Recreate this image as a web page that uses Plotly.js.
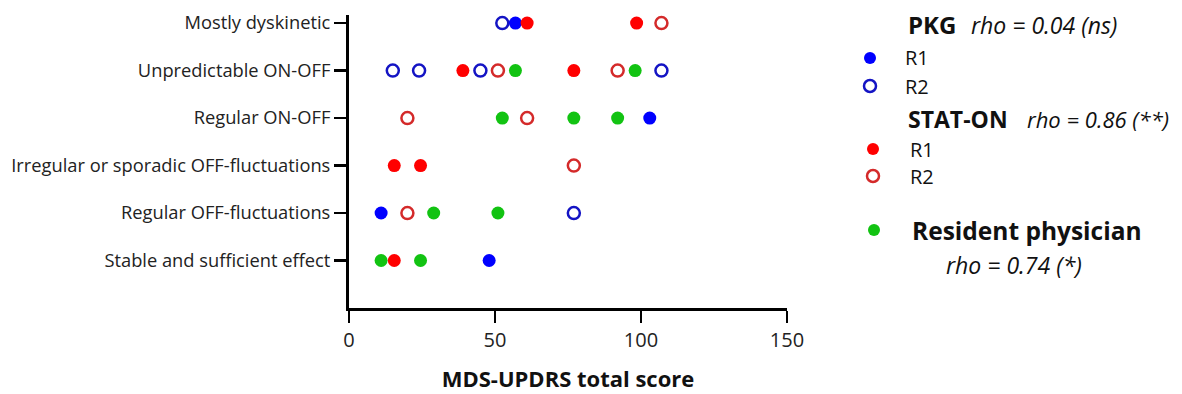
<!DOCTYPE html>
<html>
<head>
<meta charset="utf-8">
<script src="https://cdn.plot.ly/plotly-3.0.1.min.js"></script>
<style>html,body{margin:0;padding:0;background:#fff;}#chart{width:1182px;height:394px;}</style>
</head>
<body>
<div id="chart"></div>
<script>
// Categories (bottom to top)
const categories = [
  "Stable and sufficient effect",
  "Regular OFF-fluctuations",
  "Irregular or sporadic OFF-fluctuations",
  "Regular ON-OFF",
  "Unpredictable ON-OFF",
  "Mostly dyskinetic"
];
const xTickVals = [0, 50, 100, 150];

// PKG R1 (filled blue)
const pkgR1X = [57, 103, 11, 48];
const pkgR1Y = ["Mostly dyskinetic", "Regular ON-OFF", "Regular OFF-fluctuations", "Stable and sufficient effect"];
// PKG R2 (open blue)
const pkgR2X = [52.5, 15, 24, 45, 107, 77];
const pkgR2Y = ["Mostly dyskinetic", "Unpredictable ON-OFF", "Unpredictable ON-OFF", "Unpredictable ON-OFF", "Unpredictable ON-OFF", "Regular OFF-fluctuations"];
// STAT-ON R1 (filled red)
const statR1X = [61, 98.5, 39, 77, 15.5, 24.5, 15.5];
const statR1Y = ["Mostly dyskinetic", "Mostly dyskinetic", "Unpredictable ON-OFF", "Unpredictable ON-OFF", "Irregular or sporadic OFF-fluctuations", "Irregular or sporadic OFF-fluctuations", "Stable and sufficient effect"];
// STAT-ON R2 (open red)
const statR2X = [107, 51, 92, 20, 61, 77, 20];
const statR2Y = ["Mostly dyskinetic", "Unpredictable ON-OFF", "Unpredictable ON-OFF", "Regular ON-OFF", "Regular ON-OFF", "Irregular or sporadic OFF-fluctuations", "Regular OFF-fluctuations"];
// Resident physician (filled green)
const resX = [57, 98, 52.5, 77, 92, 29, 51, 11, 24.5];
const resY = ["Unpredictable ON-OFF", "Unpredictable ON-OFF", "Regular ON-OFF", "Regular ON-OFF", "Regular ON-OFF", "Regular OFF-fluctuations", "Regular OFF-fluctuations", "Stable and sufficient effect", "Stable and sufficient effect"];

const BLUE = "#0000ff", BLUE_O = "#1414c4", RED = "#ff0000", RED_O = "#d42a2a", GREEN = "#12c312";
const MS = 13;

function filled(x, y, c) {
  return {x, y, type: "scatter", mode: "markers", showlegend: false, hoverinfo: "x+y",
    marker: {size: MS, color: c, line: {width: 0}}};
}
function open(x, y, c) {
  return {x, y, type: "scatter", mode: "markers", showlegend: false, hoverinfo: "x+y",
    marker: {size: MS - 1, color: c, symbol: "circle-open", line: {width: 2.5, color: c}}};
}

const traces = [
  filled(resX, resY, GREEN),
  open(pkgR2X, pkgR2Y, BLUE_O),
  filled(pkgR1X, pkgR1Y, BLUE),
  open(statR2X, statR2Y, RED_O),
  filled(statR1X, statR1Y, RED)
];

const FONT = "Open Sans, Noto Sans, sans-serif";
const L = 349, R = 395, T = 15, B = 86, W = 1182, H = 394;
const pw = W - L - R, ph = H - T - B;
const px = v => (v - L) / pw;
const py = v => (H - B - v) / ph;

function legendDot(xp, yp, c, isOpen) {
  const r = 6;
  return {type: "circle", xref: "paper", yref: "paper", xsizemode: "pixel", ysizemode: "pixel",
    xanchor: px(xp), yanchor: py(yp), x0: -r, x1: r, y0: -r, y1: r,
    fillcolor: isOpen ? "rgba(0,0,0,0)" : c, line: {width: isOpen ? 2.5 : 0, color: c}};
}
function txt(xp, yp, text, size, anchor) {
  return {xref: "paper", yref: "paper", x: px(xp), y: py(yp), xanchor: anchor || "left", yanchor: "middle",
    text, showarrow: false, font: {family: FONT, size: size, color: "#111"}};
}

const layout = {
  width: W, height: H,
  margin: {l: L, r: R, t: T, b: B, pad: 0},
  paper_bgcolor: "#fff", plot_bgcolor: "#fff",
  font: {family: FONT, color: "#111"},
  xaxis: {
    range: [0, 150], tickvals: xTickVals, ticktext: xTickVals.map(String),
    showgrid: false, zeroline: false, showline: true, linecolor: "#000", linewidth: 3,
    ticks: "outside", ticklen: 12, tickwidth: 2.5, tickcolor: "#000",
    tickfont: {family: FONT, size: 20, color: "#222"},
    title: {text: "<b>MDS-UPDRS total score</b>", font: {family: FONT, size: 22, color: "#111"}, standoff: 20}
  },
  yaxis: {
    type: "category", categoryorder: "array", categoryarray: categories,
    range: [-1, 5.17],
    showgrid: false, zeroline: false, showline: true, linecolor: "#000", linewidth: 3,
    ticks: "outside", ticklen: 12, tickwidth: 2.5, tickcolor: "#000",
    tickfont: {family: FONT, size: 18.3, color: "#222"}
  },
  shapes: [
    legendDot(870, 58, BLUE, false),
    legendDot(870, 86, BLUE_O, true),
    legendDot(873, 149, RED, false),
    legendDot(873, 176, RED_O, true),
    legendDot(874, 230, GREEN, false)
  ],
  annotations: [
    txt(906, 25, "<b>PKG</b>", 24),
    txt(969, 25, "<i>rho = 0.04 (ns)</i>", 23),
    txt(903, 58, "R1", 20),
    txt(903, 86, "R2", 20),
    txt(906, 119, "<b>STAT-ON</b>", 23),
    txt(1025, 119, "<i>rho = 0.86 (**)</i>", 22),
    txt(908, 149, "R1", 20),
    txt(908, 176, "R2", 20),
    txt(910, 230, "<b>Resident physician</b>", 24.5),
    txt(944, 265, "<i>rho = 0.74 (*)</i>", 23)
  ]
};

Plotly.newPlot("chart", traces, layout, {staticPlot: true, displayModeBar: false});
</script>
</body>
</html>
